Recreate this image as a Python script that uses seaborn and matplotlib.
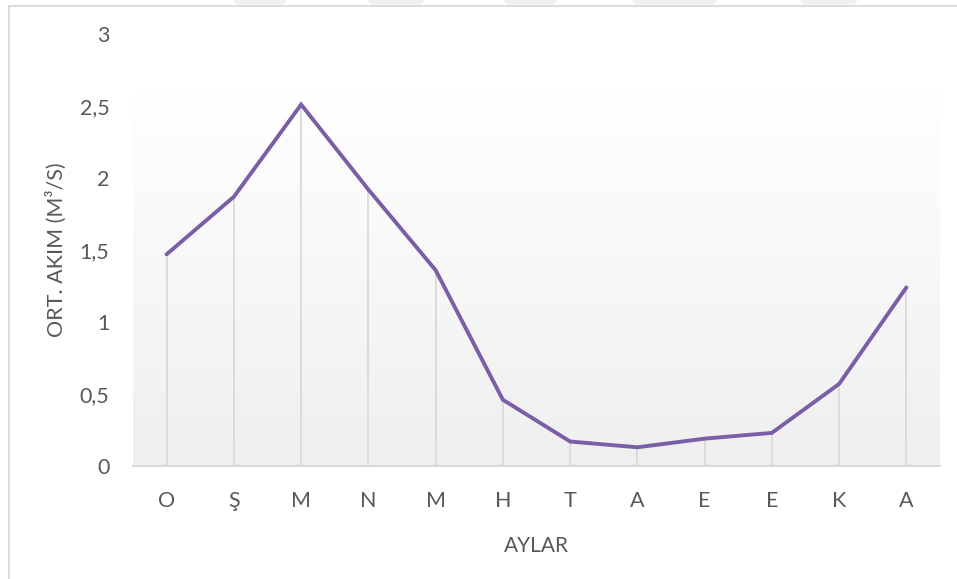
import numpy as np
import pandas as pd
import matplotlib
matplotlib.use("Agg")
import matplotlib.pyplot as plt
from matplotlib.patches import Polygon
from matplotlib.lines import Line2D
from matplotlib.colors import LinearSegmentedColormap
import seaborn as sns

months = ["O", "Ş", "M", "N", "M", "H", "T", "A", "E", "E", "K", "A"]
flow = [1.47, 1.87, 2.51, 1.92, 1.36, 0.46, 0.17, 0.13, 0.19, 0.23, 0.57, 1.24]
y_ticks = [0, 0.5, 1, 1.5, 2, 2.5, 3]
y_tick_labels = ["0", "0,5", "1", "1,5", "2", "2,5", "3"]
x_title = "AYLAR"
y_title = "ORT. AKIM (M³/S)"

sns.set_theme(style="white")
plt.rcParams["font.family"] = ["Lato", "DejaVu Sans"]

df = pd.DataFrame({"pos": np.arange(len(months)), "flow": flow})

fig = plt.figure(figsize=(9.57, 5.79), dpi=100)
ax = fig.add_axes([133 / 957, 1 - 466 / 579, 807 / 957, 432 / 579])

# gradient plot-area background
grad = np.linspace(0, 1, 256).reshape(-1, 1)
cmap = LinearSegmentedColormap.from_list("g", ["#efefef", "#ffffff"])
ax.imshow(grad, cmap=cmap, origin="lower", aspect="auto",
          extent=[-0.5, len(months) - 0.5, 0, 2.6], zorder=0)

# drop lines
ax.vlines(df["pos"], 0, df["flow"], color="#d9d9d9", lw=1.3, zorder=1)

sns.lineplot(data=df, x="pos", y="flow", ax=ax, color="#7b5fa6", lw=2.8,
             zorder=3, solid_joinstyle="miter")

ax.set_xlim(-0.5, len(months) - 0.5)
ax.set_ylim(0, 3)
ax.set_xticks(df["pos"])
ax.set_xticklabels(months)
ax.set_yticks(y_ticks)
ax.set_yticklabels(y_tick_labels)
ax.tick_params(axis="both", length=0, labelsize=15.5, labelcolor="#595959")
ax.tick_params(axis="y", pad=17)
ax.tick_params(axis="x", pad=18)

for s in ["top", "right", "left"]:
    ax.spines[s].set_visible(False)
ax.spines["bottom"].set_color("#d9d9d9")
ax.spines["bottom"].set_linewidth(1.5)
ax.set_facecolor("none")

ax.set_xlabel(x_title, fontsize=15, color="#595959")
ax.set_ylabel(y_title, fontsize=15.5, color="#595959")
ax.xaxis.set_label_coords(0.5, -0.162)
ax.yaxis.set_label_coords(-0.082, 0.5)

# chart border (top and left visible)
fig.add_artist(Line2D([8.5 / 957, 1.0], [1 - 5.5 / 579, 1 - 5.5 / 579],
                      transform=fig.transFigure, color="#d9d9d9", lw=1.3))
fig.add_artist(Line2D([8.5 / 957, 8.5 / 957], [0, 1 - 5.5 / 579],
                      transform=fig.transFigure, color="#d9d9d9", lw=1.3))

# faint watermark pieces along the top edge
for x0, x1 in [(233, 287), (367, 425), (503, 558), (632, 718), (800, 858)]:
    pts = [(x0 / 957, 1.0), (x1 / 957, 1.0), ((x1 - 4) / 957, 1 - 4.5 / 579),
           ((x0 + 4) / 957, 1 - 4.5 / 579)]
    fig.add_artist(Polygon(pts, closed=True, transform=fig.transFigure,
                           facecolor="#f0f0f0", edgecolor="none"))

fig.savefig("out.png", dpi=100)
